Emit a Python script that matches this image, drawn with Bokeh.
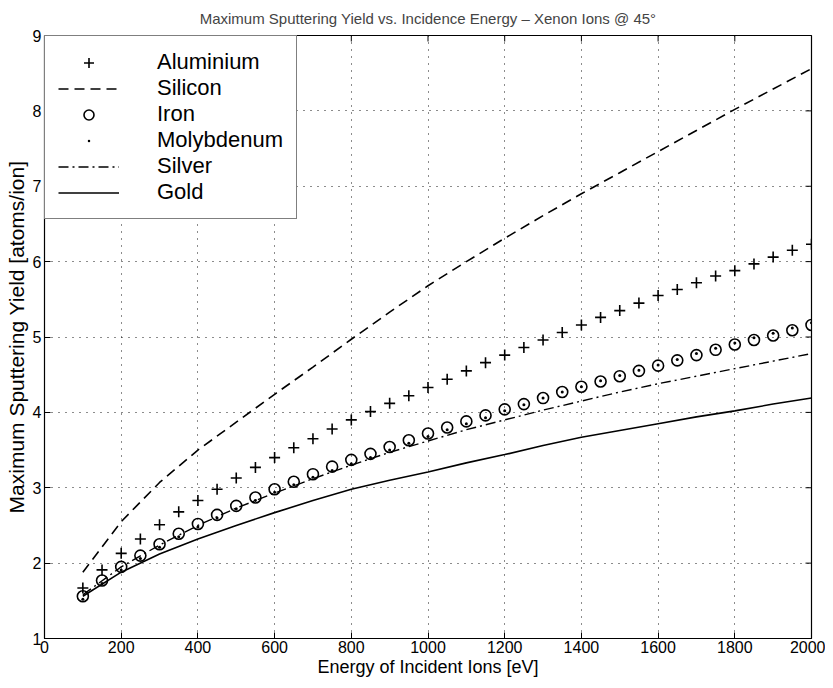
from bokeh.plotting import figure
from bokeh.models import (Range1d, FixedTicker, Legend, LegendItem)
from bokeh.embed import file_html
from bokeh.resources import INLINE

# ---- data ----
energy_50 = [100, 150, 200, 250, 300, 350, 400, 450, 500, 550, 600, 650, 700, 750,
             800, 850, 900, 950, 1000, 1050, 1100, 1150, 1200, 1250, 1300, 1350,
             1400, 1450, 1500, 1550, 1600, 1650, 1700, 1750, 1800, 1850, 1900,
             1950, 2000]
energy_100 = [100, 200, 300, 400, 500, 600, 700, 800, 900, 1000, 1100, 1200,
              1300, 1400, 1500, 1600, 1700, 1800, 1900, 2000]

aluminium = [1.67, 1.91, 2.13, 2.32, 2.51, 2.68, 2.83, 2.98, 3.13, 3.27, 3.40, 3.53,
             3.65, 3.78, 3.90, 4.01, 4.12, 4.22, 4.33, 4.44, 4.55, 4.66, 4.76, 4.86,
             4.96, 5.06, 5.16, 5.26, 5.35, 5.45, 5.55, 5.63, 5.72, 5.81, 5.88, 5.97,
             6.06, 6.15, 6.23]
iron = [1.56, 1.77, 1.95, 2.10, 2.25, 2.39, 2.52, 2.64, 2.76, 2.87, 2.98, 3.08,
        3.18, 3.28, 3.37, 3.45, 3.54, 3.63, 3.72, 3.80, 3.88, 3.96, 4.04, 4.11,
        4.19, 4.27, 4.34, 4.41, 4.48, 4.55, 4.62, 4.69, 4.76, 4.83, 4.90, 4.96,
        5.02, 5.09, 5.16]
molybdenum = [1.52, 1.73, 1.91, 2.06, 2.21, 2.35, 2.48, 2.60, 2.72, 2.83, 2.94, 3.04,
              3.14, 3.23, 3.32, 3.40, 3.50, 3.59, 3.68, 3.77, 3.85, 3.93, 4.02, 4.10,
              4.19, 4.27, 4.34, 4.42, 4.49, 4.56, 4.63, 4.70, 4.78, 4.85, 4.92, 4.99,
              5.05, 5.12, 5.19]
silicon = [1.88, 2.55, 3.07, 3.50, 3.87, 4.24, 4.60, 4.97, 5.33, 5.68, 6.00, 6.31,
           6.61, 6.90, 7.18, 7.46, 7.74, 8.02, 8.29, 8.56]
silver = [1.58, 1.95, 2.24, 2.50, 2.73, 2.93, 3.12, 3.30, 3.47, 3.62, 3.77, 3.90,
          4.03, 4.15, 4.27, 4.38, 4.48, 4.58, 4.68, 4.78]
gold = [1.56, 1.88, 2.12, 2.32, 2.50, 2.67, 2.83, 2.98, 3.10, 3.21, 3.33, 3.44,
        3.56, 3.67, 3.76, 3.85, 3.94, 4.02, 4.11, 4.19]

x_ticks = [0, 200, 400, 600, 800, 1000, 1200, 1400, 1600, 1800, 2000]
y_ticks = [1, 2, 3, 4, 5, 6, 7, 8, 9]
x_lo, x_hi = 0, 2000
y_lo, y_hi = 1, 9

FONT = "Liberation Sans"

p = figure(frame_width=767, frame_height=603,
           x_range=Range1d(x_lo, x_hi), y_range=Range1d(y_lo, y_hi),
           output_backend="svg", toolbar_location=None,
           min_border_left=44, min_border_right=14,
           min_border_top=35, min_border_bottom=42,
           title="Maximum Sputtering Yield vs. Incidence Energy \u2013 Xenon Ions @ 45\u00b0")

p.title.align = "center"
p.title.vertical_align = "top"
p.title.text_font = FONT
p.title.text_font_size = "15px"
p.title.text_font_style = "normal"
p.title.standoff = 14
p.title.offset = 0

p.outline_line_color = "black"
p.outline_line_width = 1.2
p.background_fill_color = "white"
p.border_fill_color = "white"

for ax in (p.xaxis[0], p.yaxis[0]):
    ax.major_tick_in = 6
    ax.major_tick_out = 0
    ax.minor_tick_in = 0
    ax.minor_tick_out = 0
    ax.axis_line_color = "black"
    ax.major_tick_line_color = "black"
    ax.major_label_text_font = FONT
    ax.major_label_text_font_size = "16px"
    ax.major_label_text_color = "black"
    ax.axis_label_text_font = FONT
    ax.axis_label_text_font_style = "normal"
    ax.axis_label_text_color = "black"

p.xaxis[0].ticker = FixedTicker(ticks=x_ticks)
p.yaxis[0].ticker = FixedTicker(ticks=y_ticks)
p.xaxis[0].axis_label = "Energy of Incident Ions [eV]"
p.yaxis[0].axis_label = "Maximum Sputtering Yield [atoms/ion]"
p.xaxis[0].axis_label_text_font_size = "18px"
p.yaxis[0].axis_label_text_font_size = "21px"
p.xaxis[0].major_label_standoff = 2
p.yaxis[0].major_label_standoff = 3
p.xaxis[0].axis_label_standoff = 1
p.yaxis[0].axis_label_standoff = 2

# mirrored tick marks on the top and right edges (drawn as short screen-length rays)
p.ray(x=x_ticks, y=[y_hi] * len(x_ticks), length=6, length_units="screen",
      angle=-90, angle_units="deg", line_color="black", line_width=1)
p.ray(x=[x_hi] * len(y_ticks), y=y_ticks, length=6, length_units="screen",
      angle=180, angle_units="deg", line_color="black", line_width=1)

p.xgrid.ticker = FixedTicker(ticks=x_ticks)
p.ygrid.ticker = FixedTicker(ticks=y_ticks)
for g in (p.xgrid[0], p.ygrid[0]):
    g.grid_line_color = "black"
    g.grid_line_dash = "1 6"
    g.grid_line_width = 1
    g.grid_line_alpha = 0.9

r_al = p.scatter(energy_50, aluminium, marker="cross", size=11, line_color="black",
                 line_width=1.6)
r_si = p.line(energy_100, silicon, line_color="black", line_width=1.6, line_dash="10 6")
r_fe = p.scatter(energy_50, iron, marker="circle", size=11, line_color="black",
                 fill_color=None, line_width=1.6)
r_mo = p.scatter(energy_50, molybdenum, marker="dot", size=12, line_color="black",
                 fill_color="black", line_width=1)
r_ag = p.line(energy_100, silver, line_color="black", line_width=1.4,
              line_dash="10 4 2 4")
r_au = p.line(energy_100, gold, line_color="black", line_width=1.6)

legend = Legend(items=[
    LegendItem(label="Aluminium", renderers=[r_al]),
    LegendItem(label="Silicon", renderers=[r_si]),
    LegendItem(label="Iron", renderers=[r_fe]),
    LegendItem(label="Molybdenum", renderers=[r_mo]),
    LegendItem(label="Silver", renderers=[r_ag]),
    LegendItem(label="Gold", renderers=[r_au]),
], location="top_left")
legend.margin = 0
legend.padding = 13
legend.spacing = 0
legend.glyph_width = 61
legend.glyph_height = 25
legend.label_height = 25
legend.label_standoff = 38
legend.label_text_font = FONT
legend.label_text_font_size = "22px"
legend.label_text_color = "black"
legend.border_line_color = "black"
legend.border_line_width = 1.2
legend.background_fill_color = "white"
legend.background_fill_alpha = 1.0
p.add_layout(legend, "center")

open("out.html", "w").write(file_html(p, INLINE))
